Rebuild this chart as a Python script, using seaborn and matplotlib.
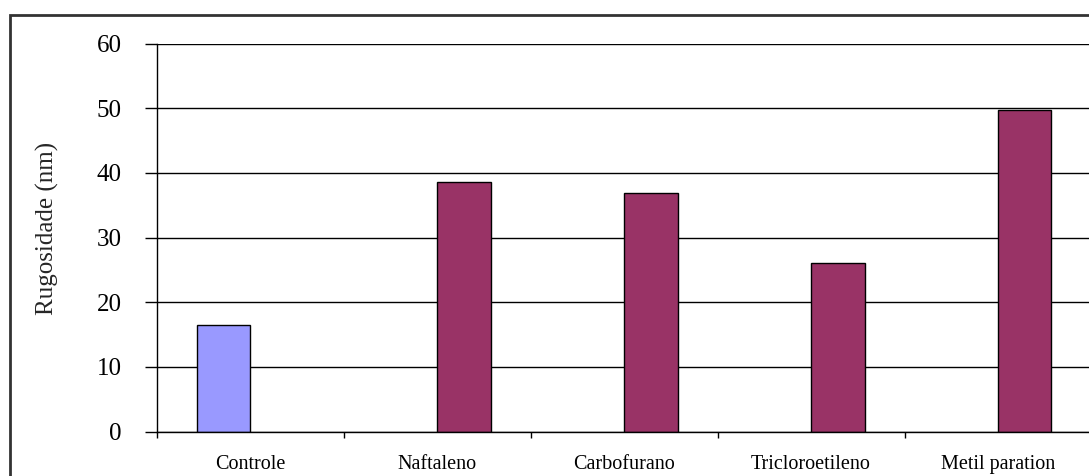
import matplotlib
matplotlib.use("Agg")
import matplotlib.pyplot as plt
from matplotlib.patches import Rectangle
from matplotlib.ticker import FixedLocator
import seaborn as sns
import pandas as pd

# Data
categorias = ["Controle", "Naftaleno", "Carbofurano", "Tricloroetileno", "Metil paration"]
grupos = ["Controle", "Tratado", "Tratado", "Tratado", "Tratado"]
rugosidade = [16.5, 38.6, 36.9, 26.1, 49.7]
yticks = [0, 10, 20, 30, 40, 50, 60]

df = pd.DataFrame({"categoria": categorias, "grupo": grupos, "rugosidade": rugosidade})

sns.set_theme(style="white")
plt.rcParams["font.family"] = ["Liberation Serif", "DejaVu Serif"]

fig = plt.figure(figsize=(10.89, 4.76), dpi=100)
ax = fig.add_axes([0.1442, 0.0931, 0.858, 0.8155])

# horizontal gridlines behind the bars
for v in yticks:
    ax.axhline(v, color="#000000", lw=1.0, zorder=0)

sns.barplot(
    data=df, x="categoria", y="rugosidade", hue="grupo",
    order=categorias, hue_order=["Controle", "Tratado"],
    palette={"Controle": "#9999FF", "Tratado": "#993366"},
    saturation=1, dodge=True, width=0.572,
    edgecolor="#000000", linewidth=1.0,
    legend=False, ax=ax, zorder=2,
)

ax.set_xlim(-0.5, len(categorias) - 0.5)
ax.set_ylim(0, 60)
ax.set_yticks(yticks)
ax.set_yticklabels([str(v) for v in yticks], fontsize=18)
ax.set_xlabel("")
ax.set_ylabel("Rugosidade (nm)", fontsize=18)
ax.yaxis.set_label_coords(-0.105, 0.523)

ax.tick_params(axis="y", which="major", direction="out", length=8.6, width=1.0,
               color="#000000", pad=17, left=True, labelcolor="#000000")
ax.tick_params(axis="x", which="major", length=0, pad=17, labelsize=14.5,
               labelcolor="#000000")
ax.xaxis.set_minor_locator(FixedLocator([i - 0.5 for i in range(len(categorias) + 1)]))
ax.tick_params(axis="x", which="minor", direction="out", length=4.5, width=1.0,
               color="#000000", bottom=True)

for side in ["top", "right"]:
    ax.spines[side].set_visible(False)
for side in ["left", "bottom"]:
    ax.spines[side].set_color("#000000")
    ax.spines[side].set_linewidth(1.0)

# outer frame of the chart area
fig.patches.append(Rectangle((10 / 1089, -0.1), 1.2, (476 - 15) / 476 + 0.1,
                             transform=fig.transFigure, fill=False,
                             edgecolor="#333333", lw=2.0, zorder=10))

fig.savefig("out.png", dpi=100)
